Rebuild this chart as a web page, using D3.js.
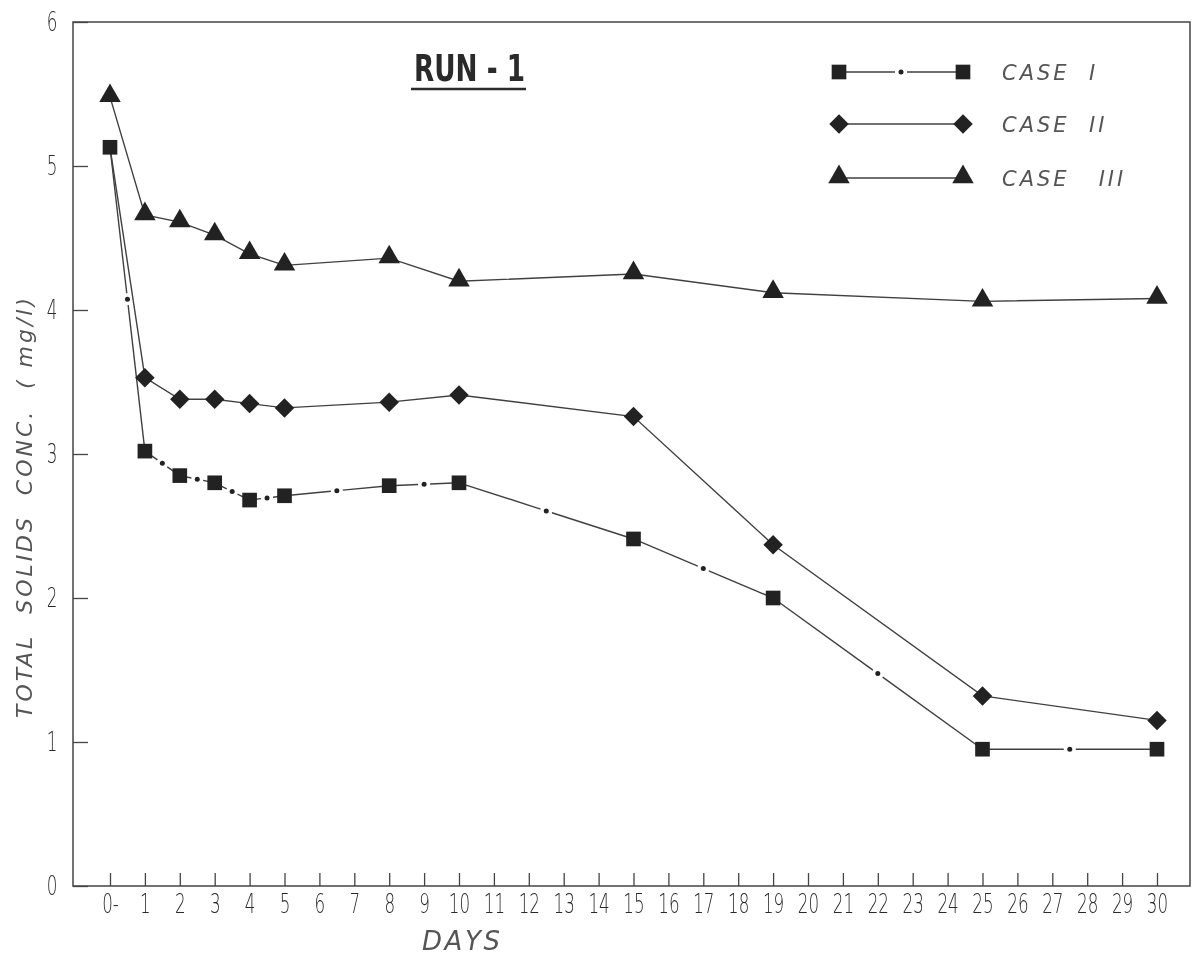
<!DOCTYPE html>
<html>
<head>
<meta charset="utf-8">
<script src="https://cdn.jsdelivr.net/npm/d3@7"></script>
<style>
  body { margin: 0; background: #fff; }
  svg { display: block; will-change: transform; }
  .tick text { font-family: "DejaVu Sans", sans-serif; font-weight: 200; fill: #2a2a2a; }
  .lbl { font-family: "DejaVu Sans", sans-serif; font-style: italic; fill: #555; }
</style>
</head>
<body>
<div id="chart"></div>
<script>
// days on the x axis, values in mg/l
const days = [0, 1, 2, 3, 4, 5, 8, 10, 15, 19, 25, 30];
const case1 = [5.13, 3.02, 2.85, 2.80, 2.68, 2.71, 2.78, 2.80, 2.41, 2.00, 0.95, 0.95];
const case2 = [5.13, 3.53, 3.38, 3.38, 3.35, 3.32, 3.36, 3.41, 3.26, 2.37, 1.32, 1.15];
const case3 = [5.48, 4.66, 4.61, 4.52, 4.39, 4.31, 4.36, 4.20, 4.25, 4.12, 4.06, 4.08];
const xTicks = d3.range(0, 31);
const yTicks = [0, 1, 2, 3, 4, 5, 6];
const caseNames = ["CASE  I", "CASE  II", "CASE   III"];

const W = 1196, H = 955;
const frameL = 73, frameR = 1190, frameT = 22, frameB = 886;
const ink = "#404040", mark = "#222";
const squeeze = 0.62; // narrow drafting digits

const svg = d3.select("#chart").append("svg")
    .attr("width", W)
    .attr("height", H);

svg.append("rect")
    .attr("width", W).attr("height", H)
    .attr("fill", "#fff");

let x = d3.scaleLinear().domain([0, 30]).range([110, 1157]);
let y = d3.scaleLinear().domain([0, 6]).range([frameB, frameT]);

// frame
svg.append("rect")
    .attr("x", frameL).attr("y", frameT)
    .attr("width", frameR - frameL).attr("height", frameB - frameT)
    .attr("fill", "none")
    .attr("stroke", "#444")
    .attr("stroke-width", 1.5);

// x axis, ticks pointing inward
let xAxis = svg.append("g")
    .attr("transform", `translate(0, ${frameB})`)
    .call(d3.axisBottom(x).tickValues(xTicks).tickSize(-13).tickPadding(8)
        .tickFormat(d => d === 0 ? "0-" : d));
xAxis.select(".domain").remove();
xAxis.selectAll(".tick line").attr("stroke", "#444").attr("stroke-width", 1.3);
xAxis.selectAll(".tick text")
    .attr("font-size", 27)
    .attr("transform", `scale(${squeeze}, 1)`);

// y axis
let yAxis = svg.append("g")
    .attr("transform", `translate(${frameL}, 0)`)
    .call(d3.axisLeft(y).tickValues(yTicks).tickSize(-15).tickFormat(d3.format("d")));
yAxis.select(".domain").remove();
yAxis.selectAll(".tick line").attr("stroke", "#444").attr("stroke-width", 1.3);
yAxis.selectAll(".tick text")
    .attr("font-size", 27)
    .attr("text-anchor", "middle")
    .attr("x", -21 / squeeze)
    .attr("transform", `scale(${squeeze}, 1)`);

// axis titles
svg.append("text")
    .attr("class", "lbl")
    .attr("transform", "translate(32, 508) rotate(-90)")
    .attr("text-anchor", "middle")
    .attr("font-size", 22)
    .attr("textLength", 420)
    .attr("lengthAdjust", "spacing")
    .attr("xml:space", "preserve")
    .text("TOTAL  SOLIDS  CONC.  ( mg/l)");

svg.append("text")
    .attr("class", "lbl")
    .attr("x", 461).attr("y", 950)
    .attr("text-anchor", "middle")
    .attr("font-size", 26)
    .attr("textLength", 78)
    .attr("lengthAdjust", "spacing")
    .text("DAYS");

// title
svg.append("text")
    .attr("x", 414).attr("y", 81)
    .attr("font-family", "'DejaVu Sans', sans-serif")
    .attr("font-weight", 600)
    .attr("font-size", 38)
    .attr("textLength", 111)
    .attr("lengthAdjust", "spacingAndGlyphs")
    .attr("fill", "#2a2a2a")
    .attr("xml:space", "preserve")
    .text("RUN - 1");
svg.append("line")
    .attr("x1", 411).attr("x2", 526)
    .attr("y1", 89).attr("y2", 89)
    .attr("stroke", "#2a2a2a").attr("stroke-width", 2.5);

// markers
const sqr = d3.symbol().type(d3.symbolSquare).size(215)();
const dia = d3.symbol().type(d3.symbolSquare).size(190)();
const tri = d3.symbol().type(d3.symbolTriangle).size(200)();

function drawMarker(g, shape, px, py) {
    let m = g.append("path")
        .attr("d", shape)
        .attr("fill", mark);
    if (shape === dia) m.attr("transform", `translate(${px}, ${py}) rotate(45)`);
    else if (shape === tri) m.attr("transform", `translate(${px}, ${py - 1})`);
    else m.attr("transform", `translate(${px}, ${py})`);
}

// dash-dot segment: solid with a small gap and dot in the middle
function dashDot(g, x0, y0, x1, y1) {
    let dx = x1 - x0, dy = y1 - y0;
    let len = Math.sqrt(dx * dx + dy * dy);
    let ux = dx / len, uy = dy / len;
    let mx = (x0 + x1) / 2, my = (y0 + y1) / 2;
    let gap = 6;
    g.append("line")
        .attr("x1", x0).attr("y1", y0)
        .attr("x2", mx - ux * gap).attr("y2", my - uy * gap)
        .attr("stroke", ink).attr("stroke-width", 1.4);
    g.append("line")
        .attr("x1", mx + ux * gap).attr("y1", my + uy * gap)
        .attr("x2", x1).attr("y2", y1)
        .attr("stroke", ink).attr("stroke-width", 1.4);
    g.append("circle")
        .attr("cx", mx).attr("cy", my).attr("r", 2.5)
        .attr("fill", mark);
}

let line = d3.line()
    .x(d => x(d[0]))
    .y(d => y(d[1]));

let plot = svg.append("g");

// case III and II solid lines
[case3, case2].forEach(vals => {
    let pts = days.map((d, i) => [d, vals[i]]);
    plot.append("path")
        .datum(pts)
        .attr("d", line)
        .attr("fill", "none")
        .attr("stroke", ink)
        .attr("stroke-width", 1.4);
});

// case I dash-dot line
for (let i = 0; i < days.length - 1; i++) {
    dashDot(plot, x(days[i]), y(case1[i]), x(days[i + 1]), y(case1[i + 1]));
}

// markers (case II shares the starting point with case I)
days.forEach((d, i) => {
    drawMarker(plot, tri, x(d), y(case3[i]));
    if (case2[i] !== case1[i]) drawMarker(plot, dia, x(d), y(case2[i]));
    drawMarker(plot, sqr, x(d), y(case1[i]));
});

// legend
const legY = [72, 124, 178];
const shapes = [sqr, dia, tri];
let legend = svg.append("g");
caseNames.forEach((name, i) => {
    if (i === 0) {
        dashDot(legend, 839, legY[i], 963, legY[i]);
    } else {
        legend.append("line")
            .attr("x1", 839).attr("x2", 963)
            .attr("y1", legY[i]).attr("y2", legY[i])
            .attr("stroke", ink).attr("stroke-width", 1.4);
    }
    drawMarker(legend, shapes[i], 839, legY[i]);
    drawMarker(legend, shapes[i], 963, legY[i]);
    legend.append("text")
        .attr("class", "lbl")
        .attr("x", 1002).attr("y", legY[i] + 8)
        .attr("font-size", 21)
        .attr("letter-spacing", 3)
        .attr("xml:space", "preserve")
        .text(name);
});
</script>
</body>
</html>
